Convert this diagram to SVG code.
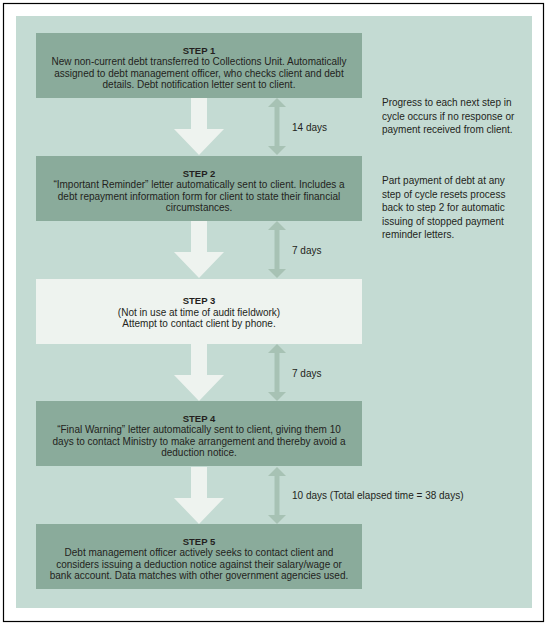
<svg xmlns="http://www.w3.org/2000/svg" width="547" height="625" viewBox="0 0 547 625">
<defs>
<style>
.box{fill:#8aab9b}
.box3{fill:#eef3ef}
.t{font-family:"Liberation Sans",Arial,sans-serif;font-size:10px;fill:#231f20}
.c{text-anchor:middle}
.h{font-weight:bold;font-size:9.5px}
.flow{fill:#eef3ef}
.dbl{stroke:#a7c2b4;stroke-width:5;fill:none}
.dblh{fill:#a7c2b4}
</style>
<g id="flow-arrow">
<polygon points="191,0 207,0 207,31 224,31 199,57 174,31 191,31"/>
</g>
<g id="dbl-arrow">
<polygon class="dblh" points="277,0 286,9 268,9"/>
<polygon class="dblh" points="277,57 286,48 268,48"/>
</g>
</defs>
<rect x="3.5" y="3.5" width="540" height="618" fill="#ffffff" stroke="#000000" stroke-width="1.2"/>
<rect x="16" y="16" width="516" height="592" fill="#c4dbd3"/>

<g id="connectors">
<use href="#flow-arrow" class="flow" transform="translate(0,98)"/>
<use href="#flow-arrow" class="flow" transform="translate(0,221)"/>
<use href="#flow-arrow" class="flow" transform="translate(0,344)"/>
<use href="#flow-arrow" class="flow" transform="translate(0,467)"/>
<line class="dbl" x1="277" y1="106" x2="277" y2="148"/>
<use href="#dbl-arrow" transform="translate(0,98)"/>
<line class="dbl" x1="277" y1="229" x2="277" y2="271"/>
<use href="#dbl-arrow" transform="translate(0,221)"/>
<line class="dbl" x1="277" y1="352" x2="277" y2="394"/>
<use href="#dbl-arrow" transform="translate(0,344)"/>
<line class="dbl" x1="277" y1="475" x2="277" y2="517"/>
<use href="#dbl-arrow" transform="translate(0,467)"/>
<text class="t" x="292" y="131">14 days</text>
<text class="t" x="292" y="254">7 days</text>
<text class="t" x="292" y="377">7 days</text>
<text class="t" x="292" y="499">10 days (Total elapsed time = 38 days)</text>
</g>

<g id="step1">
<rect class="box" x="36" y="33" width="326" height="65"/>
<text class="t c h" x="199" y="53.5">STEP 1</text>
<text class="t c" x="199" y="65">New non-current debt transferred to Collections Unit. Automatically</text>
<text class="t c" x="199" y="76.5">assigned to debt management officer, who checks client and debt</text>
<text class="t c" x="199" y="88">details. Debt notification letter sent to client.</text>
</g>

<g id="step2">
<rect class="box" x="36" y="156" width="326" height="65"/>
<text class="t c h" x="199" y="176.5">STEP 2</text>
<text class="t c" x="199" y="188">“Important Reminder” letter automatically sent to client. Includes a</text>
<text class="t c" x="199" y="199.5">debt repayment information form for client to state their financial</text>
<text class="t c" x="199" y="211">circumstances.</text>
</g>

<g id="step3">
<rect class="box3" x="36" y="279" width="326" height="65"/>
<text class="t c h" x="199" y="304">STEP 3</text>
<text class="t c" x="199" y="315.5">(Not in use at time of audit fieldwork)</text>
<text class="t c" x="199" y="327">Attempt to contact client by phone.</text>
</g>

<g id="step4">
<rect class="box" x="36" y="401" width="326" height="65"/>
<text class="t c h" x="199" y="421.5">STEP 4</text>
<text class="t c" x="199" y="433">“Final Warning” letter automatically sent to client, giving them 10</text>
<text class="t c" x="199" y="444.5">days to contact Ministry to make arrangement and thereby avoid a</text>
<text class="t c" x="199" y="456">deduction notice.</text>
</g>

<g id="step5">
<rect class="box" x="36" y="524" width="326" height="65"/>
<text class="t c h" x="199" y="544.5">STEP 5</text>
<text class="t c" x="199" y="556">Debt management officer actively seeks to contact client and</text>
<text class="t c" x="199" y="567.5">considers issuing a deduction notice against their salary/wage or</text>
<text class="t c" x="199" y="579">bank account. Data matches with other government agencies used.</text>
</g>

<g id="note-progress">
<text class="t" x="382" y="106">Progress to each next step in</text>
<text class="t" x="382" y="119.5">cycle occurs if no response or</text>
<text class="t" x="382" y="133">payment received from client.</text>
</g>

<g id="note-part-payment">
<text class="t" x="382" y="184">Part payment of debt at any</text>
<text class="t" x="382" y="197.5">step of cycle resets process</text>
<text class="t" x="382" y="211">back to step 2 for automatic</text>
<text class="t" x="382" y="224.5">issuing of stopped payment</text>
<text class="t" x="382" y="238">reminder letters.</text>
</g>
</svg>
